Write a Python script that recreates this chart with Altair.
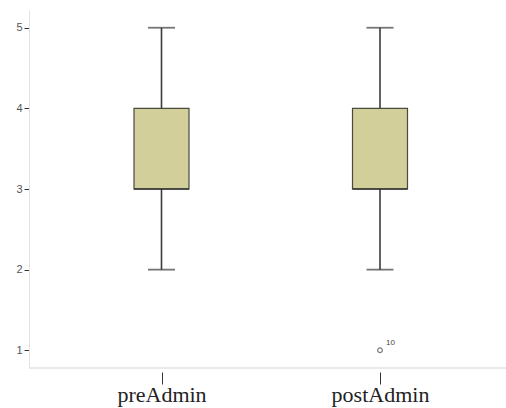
import altair as alt
import pandas as pd

# Five-number summaries per administration
groups = ["preAdmin", "postAdmin"]
whisker_low = [2, 2]
q1 = [3, 3]
median = [3, 3]
q3 = [4, 4]
whisker_high = [5, 5]

# Outlying cases (case number, group, value)
out_case = ["10"]
out_group = ["postAdmin"]
out_value = [1]

summary = pd.DataFrame({
    "group": groups,
    "lo": whisker_low,
    "q1": q1,
    "med": median,
    "q3": q3,
    "hi": whisker_high,
})
outliers = pd.DataFrame({"group": out_group, "value": out_value, "case": out_case})

W, H = 477, 358
dark = "#3a3a3a"
fill = "#d3cf9a"

x_scale = alt.Scale(type="point", domain=groups, range=[132.5, 351], padding=0)
y_scale = alt.Scale(domain=[0.78, 5.22], nice=False, zero=False)

x_axis = alt.Axis(
    title=None, labelFont="Liberation Serif", labelFontSize=22, labelColor="#222",
    tickColor="#333", tickSize=12, tickWidth=1, domain=False, offset=4,
    labelPadding=0, labelAngle=0,
)
y_axis = alt.Axis(
    title=None, values=[1, 2, 3, 4, 5], format="d", labelFont="Liberation Sans",
    labelFontSize=11, labelColor="#555", tickColor="#333", tickSize=5,
    domainColor="#e2e2e2", grid=False, labelPadding=2,
)

base = alt.Chart(summary).encode(x=alt.X("group:N", scale=x_scale, axis=x_axis, sort=groups))

whisker = base.mark_rule(color=dark, strokeWidth=1.6).encode(
    y=alt.Y("lo:Q", scale=y_scale, axis=y_axis), y2="hi:Q"
)
box = base.mark_bar(size=55, color=fill, stroke="#4a4a40", strokeWidth=1.2).encode(
    y=alt.Y("q1:Q", scale=y_scale), y2="q3:Q"
)
med = base.mark_tick(size=55, thickness=2.2, color="#2a2a2a").encode(y=alt.Y("med:Q", scale=y_scale))
cap_hi = base.mark_tick(size=27, thickness=1.8, color=dark).encode(y=alt.Y("hi:Q", scale=y_scale))
cap_lo = base.mark_tick(size=27, thickness=1.8, color=dark).encode(y=alt.Y("lo:Q", scale=y_scale))

# Horizontal axis line along the bottom of the plot
x_line = alt.Chart(summary).mark_rule(color="#e2e2e2", strokeWidth=1).encode(
    x=alt.value(0), x2=alt.value(W), y=alt.value(H)
)

out_base = alt.Chart(outliers).encode(
    x=alt.X("group:N", scale=x_scale, sort=groups), y=alt.Y("value:Q", scale=y_scale)
)
out_pts = out_base.mark_point(shape="circle", size=22, filled=False, color="#444", strokeWidth=1.2)
out_lbl = out_base.mark_text(
    font="Liberation Sans", fontSize=8, color="#444", dx=6, dy=-7, align="left"
).encode(text="case:N")

chart = (
    alt.layer(x_line, whisker, box, med, cap_hi, cap_lo, out_pts, out_lbl)
    .properties(
        width=W, height=H,
        background="white",
        autosize=alt.AutoSizeParams(type="none"),
        padding={"left": 29, "top": 10, "right": 0, "bottom": 40},
    )
    .configure_view(stroke="transparent", strokeWidth=0)
)

chart.save("out.html", embed_options={"renderer": "svg", "actions": False})
